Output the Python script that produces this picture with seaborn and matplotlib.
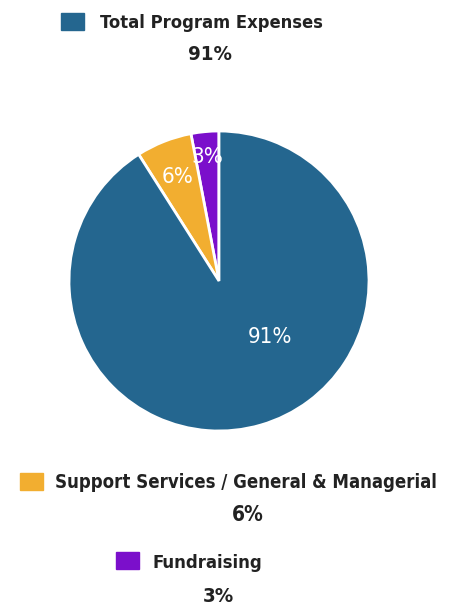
import numpy as np
import matplotlib
matplotlib.use("Agg")
import matplotlib.pyplot as plt
import seaborn as sns

categories = ["Total Program Expenses", "Support Services / General & Managerial", "Fundraising"]
values = [91, 6, 3]
pct_labels = ["91%", "6%", "3%"]
colors = ["#24668F", "#F2AE30", "#7B0FCB"]

sns.set_theme(style="white")

fig = plt.figure(figsize=(4.53, 6.07), dpi=100)
fig.patch.set_facecolor("white")
ax = fig.add_axes([69 / 453, 176 / 607, 300 / 453, 300 / 607])

order = [2, 1, 0]
wedges, _ = ax.pie([values[i] for i in order], colors=[colors[i] for i in order],
                   startangle=90, counterclock=True, radius=1.0,
                   wedgeprops=dict(edgecolor="white", linewidth=2))
ax.set_xlim(-1, 1)
ax.set_ylim(-1, 1)
ax.set_aspect("equal")
ax.axis("off")

dist = {2: 0.83, 1: 0.745}
for w, i in zip(wedges, order):
    if i in dist:
        ang = np.deg2rad((w.theta1 + w.theta2) / 2)
        x, y = dist[i] * np.cos(ang), dist[i] * np.sin(ang)
    else:
        x, y = 0.34, -0.375
    ax.text(x, y, pct_labels[i], color="white", ha="center", va="center",
            fontsize=16, family="DejaVu Sans", fontstretch="condensed", fontweight="light")

renderer = fig.canvas.get_renderer()

def fit_text(t, target_w):
    bb = t.get_window_extent(renderer=renderer)
    t.set_fontsize(t.get_fontsize() * target_w / bb.width)

def label(sq_x, sq_y, tx, ty, tw, px, py, pw, idx):
    fig.patches.append(plt.Rectangle((sq_x / 453, 1 - (sq_y + 17) / 607), 23 / 453, 17 / 607,
                                     transform=fig.transFigure, color=colors[idx]))
    t = fig.text(tx / 453, 1 - ty / 607, categories[idx], ha="left", va="center",
                 fontsize=17, fontweight="bold", family="DejaVu Sans", fontstretch="condensed",
                 color="#222222")
    fit_text(t, tw)
    p = fig.text(px / 453, 1 - py / 607, pct_labels[idx], ha="center", va="center",
                 fontsize=17, fontweight="bold", family="DejaVu Sans",
                 fontstretch="condensed", color="#222222")
    fit_text(p, pw)

label(61, 13, 100, 23, 223, 210, 54, 44, 0)
label(20, 473, 55, 483, 382, 248, 515, 32, 1)
label(116, 552, 153, 563, 110, 218, 596, 31, 2)

fig.savefig("out.png", dpi=100, facecolor="white")
